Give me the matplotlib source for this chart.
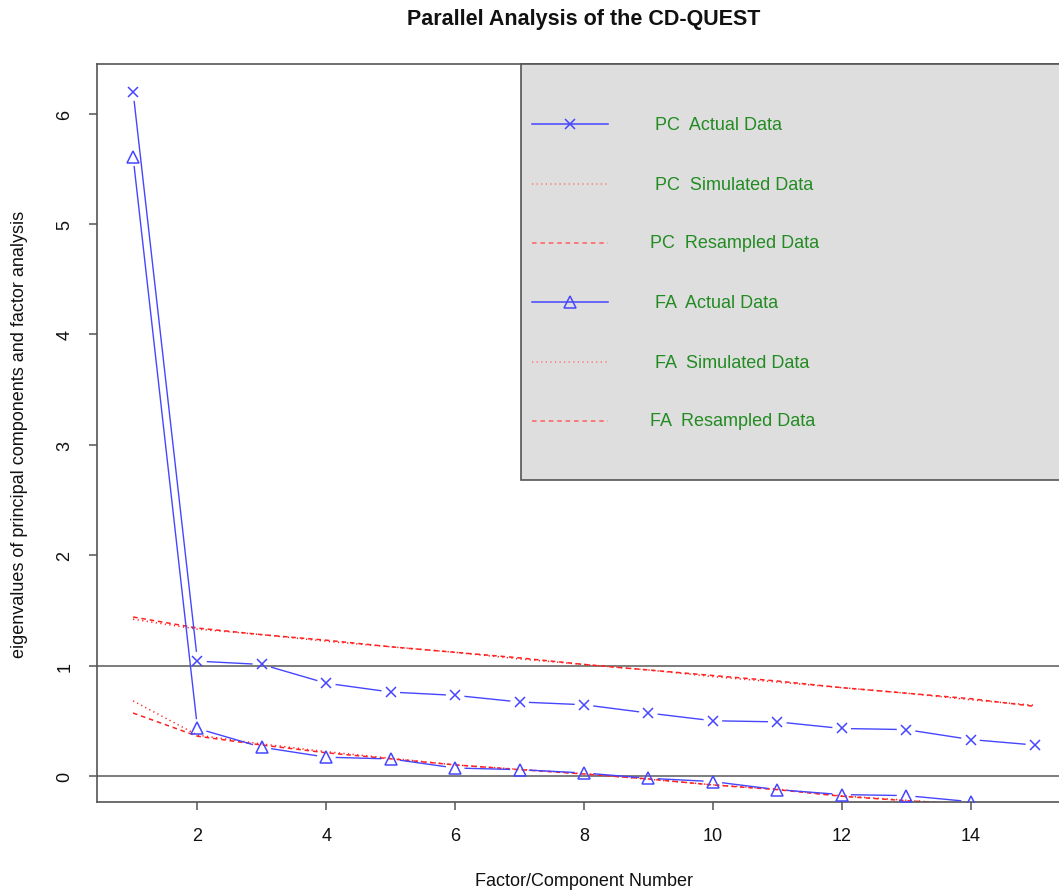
import numpy as np
import matplotlib
matplotlib.use("Agg")
import matplotlib.pyplot as plt
from matplotlib.patches import Rectangle
from matplotlib.lines import Line2D

plt.rcParams['font.family'] = ['Liberation Sans', 'DejaVu Sans']

factors = np.arange(1, 16)
pc_actual = [6.20, 1.04, 1.01, 0.84, 0.76, 0.73, 0.67, 0.645, 0.57, 0.50, 0.49, 0.43, 0.42, 0.33, 0.28]
pc_simulated = [1.42, 1.33, 1.28, 1.22, 1.17, 1.12, 1.06, 1.01, 0.96, 0.90, 0.85, 0.80, 0.75, 0.69, 0.64]
pc_resampled = [1.44, 1.34, 1.28, 1.23, 1.17, 1.12, 1.07, 1.01, 0.96, 0.91, 0.86, 0.80, 0.75, 0.70, 0.63]
fa_actual = [5.61, 0.43, 0.26, 0.17, 0.154, 0.072, 0.057, 0.027, -0.021, -0.051, -0.124, -0.169, -0.178, -0.233]
fa_simulated = [0.68, 0.37, 0.29, 0.22, 0.16, 0.10, 0.06, 0.02, -0.03, -0.08, -0.12, -0.18, -0.22, -0.26]
fa_resampled = [0.57, 0.36, 0.28, 0.21, 0.155, 0.10, 0.057, 0.018, -0.027, -0.082, -0.124, -0.184, -0.224, -0.26]

x_ticks = [2, 4, 6, 8, 10, 12, 14]
y_ticks = [0, 1, 2, 3, 4, 5, 6]

title = "Parallel Analysis of the CD-QUEST"
xlabel = "Factor/Component Number"
ylabel = "eigenvalues of principal components and factor analysis"
legend_labels = ["PC  Actual Data", "PC  Simulated Data", "PC  Resampled Data",
                 "FA  Actual Data", "FA  Simulated Data", "FA  Resampled Data"]

W, H = 1059, 895
fig = plt.figure(figsize=(W / 100, H / 100), dpi=100)
ax_l, ax_r, ax_t, ax_b = 97, 1071, 65, 803
ax = fig.add_axes([ax_l / W, 1 - ax_b / H, (ax_r - ax_l) / W, (ax_b - ax_t) / H])
ax.set_xlim(0.44, 15.56)
ax.set_ylim(-0.236, 6.45)

BLUE = '#4646ff'
RED = '#ff2020'
FRAME = '#555555'

def gapped(x, y, gap=10, **kw):
    pts = ax.transData.transform(np.column_stack([x, y]))
    inv = ax.transData.inverted()
    for p0, p1 in zip(pts[:-1], pts[1:]):
        d = p1 - p0
        L = np.hypot(*d)
        if L <= 2 * gap:
            continue
        u = d / L
        seg = inv.transform(np.array([p0 + u * gap, p1 - u * gap]))
        ax.plot(seg[:, 0], seg[:, 1], **kw)

# reference lines
ax.axhline(1, color='#666666', lw=1.2, zorder=1)
ax.axhline(0, color='#666666', lw=1.2, zorder=1)

dotted = (0, (0.8, 2.2))
dashed = (0, (3.0, 2.5))

# actual data (type = "b")
gapped(factors[:len(pc_actual)], pc_actual, color=BLUE, lw=1.0, zorder=3)
ax.plot(factors[:len(pc_actual)], pc_actual, ls='none', marker='x', ms=7.5,
        mew=1.1, color=BLUE, zorder=4)
gapped(factors[:len(fa_actual)], fa_actual, color=BLUE, lw=1.0, zorder=3)
ax.plot(factors[:len(fa_actual)], fa_actual, ls='none', marker='^', ms=8.5,
        mew=1.1, mfc='none', mec=BLUE, zorder=4)

# simulated / resampled
ax.plot(factors[:len(pc_simulated)], pc_simulated, color=RED, lw=1.1, ls=dotted, zorder=2)
ax.plot(factors[:len(pc_resampled)], pc_resampled, color=RED, lw=1.1, ls=dashed, zorder=2)
ax.plot(factors[:len(fa_simulated)], fa_simulated, color=RED, lw=1.1, ls=dotted, zorder=2)
ax.plot(factors[:len(fa_resampled)], fa_resampled, color=RED, lw=1.1, ls=dashed, zorder=2)

# axes styling
for s in ax.spines.values():
    s.set_color(FRAME)
    s.set_linewidth(1.2)
ax.set_xticks(x_ticks)
ax.set_yticks(y_ticks)
ax.tick_params(axis='both', direction='out', length=6, width=1.1, color=FRAME,
               labelsize=13, labelcolor='#111111')
ax.tick_params(axis='x', pad=12)
ax.tick_params(axis='y', pad=11)
for lab in ax.get_yticklabels():
    lab.set_rotation(90)
    lab.set_va('center')

fig.text(584 / W, 1 - 20 / H, title, ha='center', va='center', fontsize=15.5,
         fontweight='bold', color='#111111')
fig.text(584 / W, 1 - 882 / H, xlabel, ha='center', va='center', fontsize=13, color='#111111')
fig.text(20 / W, 1 - 434 / H, ylabel, ha='center', va='center', fontsize=13,
         rotation=90, color='#111111')

# legend (drawn in axes coordinates)
def fx(px):
    return (px - ax_l) / (ax_r - ax_l)

def fy(py):
    return (ax_b - py) / (ax_b - ax_t)

ax.add_patch(Rectangle((fx(521), fy(481)), 1.2, 1.0 - fy(481), transform=ax.transAxes,
                       facecolor='#dedede', edgecolor=FRAME, lw=1.2, zorder=5,
                       clip_on=False))
rows = [125, 185, 244, 303, 363, 422]
text_x = [655, 655, 650, 655, 655, 650]
styles = [dict(ls='-', color=BLUE, marker='x', ms=7, mew=1.1),
          dict(ls=dotted, color='#ff7070'),
          dict(ls=dashed, color='#ff6060'),
          dict(ls='-', color=BLUE, marker='^', ms=8, mew=1.1, mfc='none', mec=BLUE),
          dict(ls=dotted, color='#ff7070'),
          dict(ls=dashed, color='#ff6060')]
for py, tx, lbl, st in zip(rows, text_x, legend_labels, styles):
    ax.add_line(Line2D([fx(532), fx(608)], [fy(py), fy(py)], transform=ax.transAxes,
                       lw=1.1, zorder=6, **{k: v for k, v in st.items() if k not in ('marker', 'ms', 'mew', 'mfc', 'mec')}))
    if 'marker' in st:
        ax.add_line(Line2D([fx(570)], [fy(py)], transform=ax.transAxes, ls='none',
                           marker=st['marker'], ms=st['ms'], mew=st['mew'],
                           mfc=st.get('mfc', st['color']), mec=st.get('mec', st['color']),
                           zorder=7))
    ax.text(fx(tx), fy(py), lbl, transform=ax.transAxes, ha='left', va='center',
            fontsize=13, color='#228b22', zorder=7)

fig.savefig('out.png', dpi=100)
